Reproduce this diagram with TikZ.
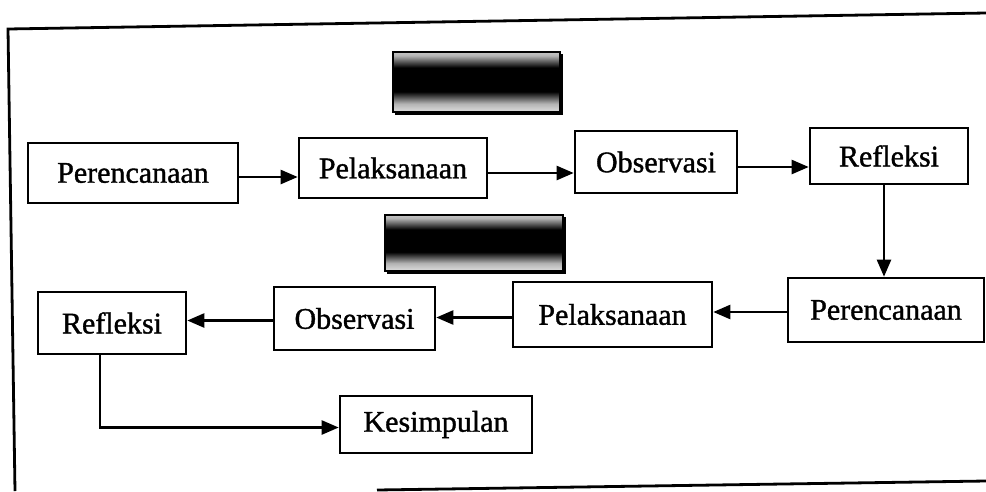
\documentclass[tikz,border=0pt]{standalone}
\usepackage{fontspec}
\setmainfont{Liberation Serif}
\newfontfamily\boxfont[FakeBold=1.2]{Liberation Serif}
\usetikzlibrary{arrows.meta}
\pgfdeclareverticalshading{bandshade}{100bp}{color(0bp)=(white); color(20bp)=(white); color(32bp)=(gray!60); color(42bp)=(black); color(62bp)=(black); color(72bp)=(gray!60); color(84bp)=(white); color(100bp)=(white)}
\tikzset{
  box/.style={draw=black, line width=2.6pt, fill=white, inner sep=0pt, font=\boxfont\fontsize{30}{36}\selectfont},
  conn/.style={line width=2.4pt, -{Triangle[length=17pt,width=14pt]}},
  frameline/.style={line width=2.8pt},
  redact/.style={draw=black, line width=2.2pt, shading=bandshade}
}
\begin{document}
\begin{tikzpicture}[x=1pt,y=-1pt]
\useasboundingbox (0,0) rectangle (986,491);
% outer frame
\coordinate (ftl) at (8,29);
\coordinate (ftr) at (986,13);
\coordinate (fbl) at (15,491);
\coordinate (fbs) at (377,490);
\coordinate (fbr) at (986,481);
\draw[frameline] (fbl) -- (ftl) -- (ftr);
\draw[frameline] (fbs) -- (fbr);
% redacted shaded blocks
\path[redact] (393,52) rectangle (560,112);
\draw[line width=3.2pt] (395,113) -- (561,113) -- (561,54);
\path[redact] (385,215) rectangle (563,271);
\draw[line width=3.2pt] (387,272) -- (564,272) -- (564,217);
% nodes
\node[box, minimum width=210pt, minimum height=60pt] (per1) at (133,173) {Perencanaan};
\node[box, minimum width=188pt, minimum height=60pt] (pel1) at (393,168) {Pelaksanaan};
\node[box, minimum width=162pt, minimum height=62pt] (obs1) at (656,162) {Observasi};
\node[box, minimum width=158pt, minimum height=56pt] (ref1) at (889,156) {Refleksi};
\node[box, minimum width=196pt, minimum height=64pt] (per2) at (886,310) {Perencanaan};
\node[box, minimum width=199pt, minimum height=65pt] (pel2) at (612.5,314.5) {Pelaksanaan};
\node[box, minimum width=161pt, minimum height=63pt] (obs2) at (354.5,318.5) {Observasi};
\node[box, minimum width=148pt, minimum height=62pt] (ref2) at (112,323) {Refleksi};
\node[box, minimum width=192pt, minimum height=57pt] (kes) at (436,424.5) {Kesimpulan};
% connectors
\draw[conn] ([yshift=-4pt]per1.east) -- ([yshift=-4pt]per1.east -| pel1.west);
\draw[conn] ([yshift=-5pt]pel1.east) -- ([yshift=-5pt]pel1.east -| obs1.west);
\draw[conn] ([yshift=-5pt]obs1.east) -- ([yshift=-5pt]obs1.east -| ref1.west);
\draw[conn] ([xshift=-5pt]ref1.south) -- ([xshift=-5pt]ref1.south |- per2.north);
\draw[conn] ([yshift=-2pt]per2.west) -- ([yshift=-2pt]per2.west -| pel2.east);
\draw[conn] ([yshift=-3pt]pel2.west) -- ([yshift=-3pt]pel2.west -| obs2.east);
\draw[conn] ([yshift=-2pt]obs2.west) -- ([yshift=-2pt]obs2.west -| ref2.east);
\draw[conn] ([xshift=-12pt]ref2.south) |- ([yshift=-3pt]kes.west);
\end{tikzpicture}
\end{document}
